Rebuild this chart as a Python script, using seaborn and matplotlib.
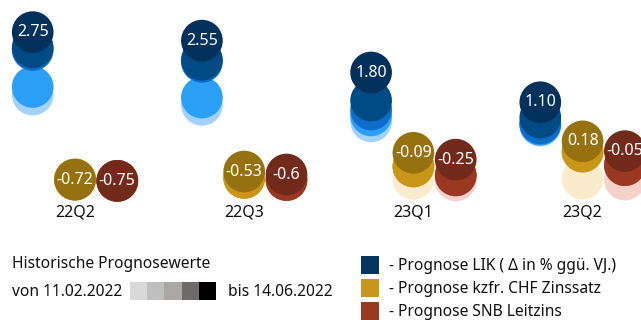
import matplotlib
matplotlib.use("Agg")
import matplotlib.pyplot as plt
import pandas as pd
import seaborn as sns
from matplotlib.patches import Rectangle

# Forecast quarters and the five historical forecast dates (oldest -> newest)
quarters = ["22Q2", "22Q3", "23Q1", "23Q2"]
dates = ["11.02.2022", "d2", "d3", "d4", "14.06.2022"]

# values per quarter, oldest forecast first
lik = [
    [1.28, 1.46, 2.33, 2.39, 2.75],
    [1.04, 1.21, 2.05, 2.10, 2.55],
    [0.65, 0.79, 0.93, 1.14, 1.80],
    [0.55, 0.57, 0.60, 0.74, 1.10],
]
chf = [
    [-0.72, -0.72, -0.72, -0.72, -0.72],
    [-0.68, -0.68, -0.68, -0.68, -0.53],
    [-0.70, -0.41, -0.41, -0.41, -0.09],
    [-0.70, -0.06, -0.06, -0.06, 0.18],
]
snb = [
    [-0.75, -0.75, -0.75, -0.75, -0.75],
    [-0.73, -0.73, -0.73, -0.73, -0.60],
    [-0.74, -0.62, -0.62, -0.62, -0.25],
    [-0.72, -0.38, -0.38, -0.38, -0.05],
]
# labels printed on the newest forecast
lik_labels = ["2.75", "2.55", "1.80", "1.10"]
chf_labels = ["-0.72", "-0.53", "-0.09", "0.18"]
snb_labels = ["-0.75", "-0.6", "-0.25", "-0.05"]

legend_names = [
    "- Prognose LIK ( Δ in % ggü. VJ.)",
    "- Prognose kzfr. CHF Zinssatz",
    "- Prognose SNB Leitzins",
]
legend_colors = ["#03355f", "#c9951a", "#9b3822"]
gray_steps = ["#d9d9d9", "#bfbfbf", "#aba7a7", "#6f6a6a", "#000000"]

shades = {
    "lik": ["#a3d2ff", "#2b9ef5", "#0d6dca", "#004a86", "#02315b"],
    "chf": ["#fbebcd", "#f0d38f", "#dba93a", "#c9961a", "#967110"],
    "snb": ["#f4d2ca", "#e3a595", "#c0604a", "#9b3822", "#722a1b"],
}
offsets = {"lik": -0.25, "chf": 0.0, "snb": 0.25}
series = {"lik": lik, "chf": chf, "snb": snb}

rows = []
for level in range(len(dates)):
    for name, vals in series.items():
        for qi in range(len(quarters)):
            rows.append({
                "x": qi + offsets[name],
                "value": vals[qi][level],
                "key": f"{name}{level}",
            })
df = pd.DataFrame(rows)
palette = {f"{n}{lv}": c for n, cs in shades.items() for lv, c in enumerate(cs)}

sns.set_theme(style="white")
plt.rcParams["font.family"] = ["Noto Sans", "DejaVu Sans"]

W, H = 641, 320
fig = plt.figure(figsize=(W / 100, H / 100), dpi=100)
ax = fig.add_axes([0, 1 - 200 / H, 1, 200 / H])

sns.scatterplot(data=df, x="x", y="value", hue="key", palette=palette,
                s=900, linewidth=0, legend=False, ax=ax, clip_on=False)

for name, labels in [("lik", lik_labels), ("chf", chf_labels), ("snb", snb_labels)]:
    for qi, lab in enumerate(labels):
        ax.text(qi + offsets[name], series[name][qi][-1], lab, ha="center",
                va="center", color="white", fontsize=11.5)

ax.set_xlim(-75 / 169.2, 566 / 169.2)
ax.set_ylim(-1.2, 3.506)
ax.set_xticks(range(len(quarters)), quarters, fontsize=11.5, color="#111111")
ax.set_yticks([])
ax.tick_params(axis="x", length=0, pad=3)
ax.set_xlabel("")
ax.set_ylabel("")
sns.despine(ax=ax, left=True, bottom=True)


def fx(px):
    return px / W


def fy(py):
    return 1 - py / H


# history legend
fs = 11.2
fig.text(fx(12), fy(268.3), "Historische Prognosewerte", fontsize=fs,
         va="baseline", color="#111111")
fig.text(fx(12), fy(295.5), "von " + dates[0], fontsize=fs, va="baseline", color="#111111")
fig.text(fx(228), fy(295.5), "bis " + dates[-1], fontsize=fs, va="baseline", color="#111111")
step = 86 / len(gray_steps)
for i, c in enumerate(gray_steps):
    fig.patches.append(Rectangle((fx(130 + i * step), fy(300)), fx(step), 18.3 / H,
                                 transform=fig.transFigure, color=c, lw=0))

# series legend
for i, (lab, c) in enumerate(zip(legend_names, legend_colors)):
    top = 256 + i * 23
    fig.patches.append(Rectangle((fx(361), fy(top + 18)), fx(18), 18 / H,
                                 transform=fig.transFigure, color=c, lw=0))
    fig.text(fx(389), fy(269.5 + i * 23.3), lab, fontsize=fs, va="baseline", color="#111111")

fig.savefig("out.png", dpi=100)
